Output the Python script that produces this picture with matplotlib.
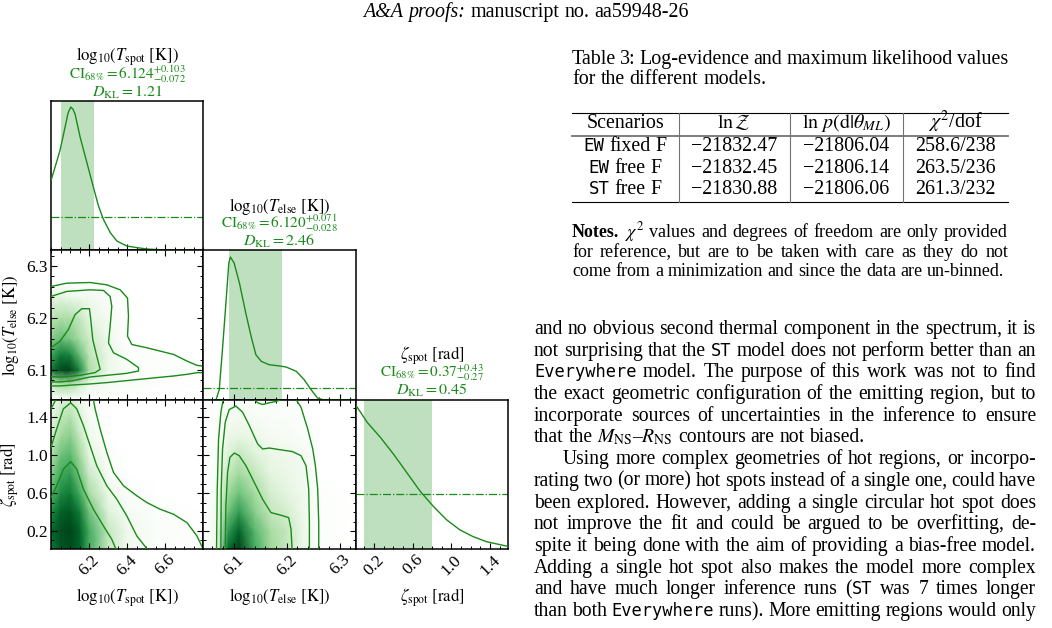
import re
import numpy as np
import matplotlib
matplotlib.use('Agg')
import matplotlib.pyplot as plt
from matplotlib.ticker import MultipleLocator
from matplotlib.transforms import IdentityTransform
from matplotlib.lines import Line2D
from matplotlib.colors import LinearSegmentedColormap

plt.rcParams['font.family'] = 'Liberation Serif'
plt.rcParams['mathtext.fontset'] = 'stix'

# ---------------- corner plot data ----------------
params = ['Tspot', 'Telse', 'zeta']
labels = {'Tspot': r'$\mathrm{log}_{10}(T_{\rm spot}\ [\rm K])$',
          'Telse': r'$\mathrm{log}_{10}(T_{\rm else}\ [\rm K])$',
          'zeta': r'$\zeta_{\rm spot}\ [\rm rad]$'}
lims = {'Tspot': (6.0, 6.8), 'Telse': (6.043, 6.33), 'zeta': (0.01, 1.585)}
ticks = {'Tspot': [6.2, 6.4, 6.6], 'Telse': [6.1, 6.2, 6.3], 'zeta': [0.2, 0.6, 1.0, 1.4]}
tick_labels = {'Tspot': ['6.2', '6.4', '6.6'], 'Telse': ['6.1', '6.2', '6.3'],
               'zeta': ['0.2', '0.6', '1.0', '1.4']}
minor_step = {'Tspot': 0.05, 'Telse': 0.02, 'zeta': 0.1}

# credible intervals and KL divergence
ci_med = {'Tspot': 6.124, 'Telse': 6.120, 'zeta': 0.37}
ci_lo = {'Tspot': 0.072, 'Telse': 0.028, 'zeta': 0.27}
ci_hi = {'Tspot': 0.103, 'Telse': 0.071, 'zeta': 0.43}
ci_fmt = {'Tspot': '%.3f', 'Telse': '%.3f', 'zeta': '%.2f'}
dkl = {'Tspot': '1.21', 'Telse': '2.46', 'zeta': '0.45'}

# 1D marginal posteriors (normalised to peak) and prior level
tspot_x = [6.0, 6.021, 6.047, 6.074, 6.09, 6.104, 6.115, 6.126, 6.153, 6.188, 6.223, 6.249,
           6.275, 6.311, 6.346, 6.398, 6.451, 6.504, 6.609, 6.8]
tspot_p = [0.486, 0.579, 0.696, 0.860, 0.96, 1.0, 0.985, 0.953, 0.790, 0.614, 0.439, 0.311,
           0.217, 0.124, 0.065, 0.030, 0.019, 0.009, 0.002, 0.0]
telse_x = [6.043, 6.067, 6.073, 6.079, 6.086, 6.091, 6.094, 6.101, 6.111, 6.123, 6.133, 6.142,
           6.152, 6.167, 6.183, 6.199, 6.218, 6.233, 6.246, 6.258, 6.268, 6.33]
telse_p = [0.0, 0.0, 0.07, 0.35, 0.70, 0.958, 1.0, 0.958, 0.818, 0.607, 0.444, 0.315,
           0.269, 0.245, 0.238, 0.229, 0.199, 0.14, 0.07, 0.012, 0.0, 0.0]
zeta_x = [0.01, 0.061, 0.130, 0.267, 0.403, 0.540, 0.677, 0.813, 0.950, 1.087, 1.224, 1.361,
          1.566, 1.585]
zeta_p = [1.0, 0.949, 0.879, 0.774, 0.657, 0.529, 0.401, 0.296, 0.203, 0.133, 0.086, 0.051,
          0.021, 0.018]
marg = {'Tspot': (tspot_x, tspot_p), 'Telse': (telse_x, telse_p), 'zeta': (zeta_x, zeta_p)}
prior_level = {'Tspot': 0.236, 'Telse': 0.082, 'zeta': 0.385}
top_pad = {'Tspot': 1.042, 'Telse': 1.047, 'zeta': 1.037}

# 2D densities on coarse grids (x along columns, y along rows)
dens_grid = {}
dens_grid[(1, 0)] = (
    [6.0, 6.05, 6.1, 6.15, 6.2, 6.3, 6.4, 6.55, 6.8],
    [6.043, 6.075, 6.10, 6.13, 6.16, 6.20, 6.24, 6.27, 6.33],
    [[0, 0, 0, 0, 0, 0, 0, 0, 0],
     [0.3, 0.4, 0.4, 0.28, 0.16, 0.08, 0.04, 0.02, 0.0],
     [0.75, 0.97, 1.0, 0.72, 0.38, 0.13, 0.05, 0.03, 0.02],
     [0.6, 0.75, 0.72, 0.52, 0.32, 0.15, 0.03, 0.01, 0.0],
     [0.45, 0.52, 0.48, 0.38, 0.27, 0.12, 0.01, 0, 0],
     [0.32, 0.36, 0.36, 0.3, 0.2, 0.08, 0, 0, 0],
     [0.2, 0.2, 0.15, 0.12, 0.1, 0.04, 0, 0, 0],
     [0, 0, 0, 0, 0, 0, 0, 0, 0],
     [0, 0, 0, 0, 0, 0, 0, 0, 0]])
dens_grid[(2, 0)] = (
    [6.0, 6.05, 6.1, 6.15, 6.2, 6.3, 6.4, 6.55, 6.8],
    [0.01, 0.2, 0.4, 0.6, 0.8, 1.0, 1.2, 1.4, 1.585],
    [[0.75, 0.9, 0.95, 0.85, 0.6, 0.3, 0.1, 0.03, 0.0],
     [0.8, 0.95, 1.0, 0.85, 0.6, 0.3, 0.12, 0.04, 0.01],
     [0.7, 0.85, 0.9, 0.75, 0.5, 0.22, 0.08, 0.03, 0.0],
     [0.55, 0.7, 0.75, 0.6, 0.38, 0.13, 0.04, 0.01, 0],
     [0.45, 0.6, 0.65, 0.48, 0.28, 0.06, 0.01, 0, 0],
     [0.35, 0.5, 0.55, 0.4, 0.2, 0.03, 0, 0, 0],
     [0.25, 0.4, 0.45, 0.3, 0.12, 0.01, 0, 0, 0],
     [0.15, 0.3, 0.35, 0.22, 0.07, 0, 0, 0, 0],
     [0.1, 0.22, 0.25, 0.15, 0.04, 0, 0, 0, 0]])
dens_grid[(2, 1)] = (
    [6.043, 6.07, 6.09, 6.11, 6.14, 6.17, 6.2, 6.23, 6.26, 6.33],
    [0.01, 0.2, 0.4, 0.6, 0.8, 1.0, 1.2, 1.4, 1.585],
    [[0, 0.15, 0.8, 1.0, 0.6, 0.4, 0.3, 0.15, 0.02, 0],
     [0, 0.12, 0.65, 0.85, 0.55, 0.38, 0.3, 0.15, 0.02, 0],
     [0, 0.1, 0.5, 0.65, 0.45, 0.3, 0.25, 0.13, 0.02, 0],
     [0, 0.08, 0.4, 0.5, 0.38, 0.25, 0.2, 0.12, 0.02, 0],
     [0, 0.06, 0.3, 0.4, 0.3, 0.2, 0.16, 0.1, 0.01, 0],
     [0, 0.05, 0.22, 0.3, 0.22, 0.15, 0.12, 0.08, 0.01, 0],
     [0, 0.03, 0.15, 0.18, 0.13, 0.08, 0.07, 0.04, 0, 0],
     [0, 0.02, 0.08, 0.1, 0.07, 0.05, 0.04, 0.02, 0, 0],
     [0, 0.01, 0.04, 0.05, 0.04, 0.03, 0.02, 0.01, 0, 0]])

# credible contours, read as (x, y) polylines
contours = {}
contours[(1, 0)] = [
    ([6.0, 6.0825, 6.2053, 6.293, 6.3632, 6.4018, 6.407, 6.4018, 6.4246, 6.5035, 6.5737, 6.6439,
      6.714, 6.7667, 6.802],
     [6.2605, 6.2669, 6.2682, 6.2637, 6.2541, 6.2382, 6.2032, 6.165, 6.149, 6.1427, 6.1363,
      6.1299, 6.1172, 6.1089, 6.1076]),
    ([6.802, 6.7667, 6.714, 6.6439, 6.5561, 6.4684, 6.3807, 6.293, 6.2053, 6.1175, 6.0474, 6.0],
     [6.0949, 6.0949, 6.0917, 6.0885, 6.0854, 6.0822, 6.079, 6.0758, 6.0732, 6.0713, 6.0694,
      6.0694]),
    ([6.0, 6.0825, 6.2053, 6.2754, 6.3105, 6.3193, 6.3105, 6.3018, 6.3281, 6.3982, 6.4596,
      6.4596, 6.3982, 6.293, 6.2053, 6.1175, 6.0474, 6.0],
     [6.2414, 6.251, 6.2541, 6.2529, 6.2414, 6.2223, 6.1841, 6.1522, 6.1331, 6.1204, 6.1045,
      6.0981, 6.0936, 6.0898, 6.0866, 6.0796, 6.0771, 6.0771]),
    ([6.0, 6.0474, 6.0912, 6.1263, 6.1614, 6.2018, 6.2088, 6.2193, 6.2404, 6.2579, 6.2316,
      6.1526, 6.0649, 6.0],
     [6.1427, 6.1554, 6.1777, 6.2064, 6.2178, 6.2178, 6.1968, 6.1586, 6.1268, 6.1013, 6.095,
      6.0898, 6.0866, 6.0873]),
]
contours[(2, 0)] = [
    ([6.0, 6.026], [1.488, 1.587]),
    ([6.2228, 6.2316, 6.2579, 6.293, 6.3281, 6.3807, 6.4509, 6.5035, 6.5737, 6.6439, 6.714,
      6.7667, 6.7982],
     [1.587, 1.488, 1.277, 1.030, 0.818, 0.677, 0.571, 0.500, 0.429, 0.376, 0.288, 0.147, 0.013]),
    ([6.0, 6.0298, 6.0649, 6.1035, 6.1351, 6.1702, 6.2053, 6.2404, 6.293, 6.3456, 6.3982,
      6.4509, 6.5035],
     [1.082, 1.277, 1.488, 1.552, 1.488, 1.312, 1.100, 0.888, 0.677, 0.535, 0.359, 0.147, 0.013]),
    ([6.0, 6.0298, 6.0649, 6.1035, 6.1351, 6.1702, 6.2228, 6.2754, 6.3193, 6.34],
     [0.553, 0.677, 0.853, 0.931, 0.853, 0.641, 0.429, 0.253, 0.112, 0.013]),
]
contours[(2, 1)] = [
    ([6.0679, 6.0692, 6.0717, 6.0761, 6.0805], [0.013, 0.641, 1.171, 1.453, 1.587]),
    ([6.139, 6.1453, 6.1547, 6.1673, 6.1799, 6.1893], [1.587, 1.552, 1.534, 1.552, 1.566, 1.587]),
    ([6.2176, 6.227, 6.2396, 6.2491, 6.2541, 6.2585, 6.2604, 6.2604],
     [1.587, 1.506, 1.277, 1.065, 0.888, 0.641, 0.288, 0.013]),
    ([6.0761, 6.0767, 6.0792, 6.0843, 6.0918, 6.1044, 6.117, 6.1296, 6.1453, 6.1547, 6.1673,
      6.1862, 6.2113, 6.227, 6.2365, 6.2415, 6.2428, 6.2428],
     [0.013, 0.641, 1.065, 1.347, 1.481, 1.517, 1.453, 1.312, 1.118, 1.065, 1.075, 1.058, 1.037,
      0.994, 0.888, 0.641, 0.288, 0.013]),
    ([6.0843, 6.0855, 6.0887, 6.0931, 6.1013, 6.1107, 6.1233, 6.139, 6.1547, 6.1704, 6.1893,
      6.2038, 6.2082, 6.2101],
     [0.013, 0.465, 0.818, 0.977, 1.022, 0.994, 0.888, 0.712, 0.535, 0.394, 0.366, 0.341, 0.218,
      0.013]),
]

# ---------------- page text ----------------
header = "__A&A__ __proofs:__ manuscript no. aa59948-26"
caption = ["Table 3: Log-evidence and maximum likelihood values",
           "for the different models."]
col_names = ["Scenarios", r"$\ln\mathcal{Z}$", r"$\ln\,p(\mathrm{d}|\theta_{ML})$",
             r"$\chi^2$/dof"]
scenarios = ["`EW` fixed F", "`EW` free F", "`ST` free F"]
ln_z = ["\u221221832.47", "\u221221832.45", "\u221221830.88"]
ln_like = ["\u221221806.04", "\u221221806.14", "\u221221806.06"]
chi2_dof = ["258.6/238", "263.5/236", "261.3/232"]
notes = [r"**Notes.** $\chi^2$ values and degrees of freedom are only provided",
         "for reference, but are to be taken with care as they do not",
         "come from a minimization and since the data are un-binned."]
body = [
    "and no obvious second thermal component in the spectrum, it is",
    "not surprising that the `ST` model does not perform better than an",
    "`Everywhere` model. The purpose of this work was not to find",
    "the exact geometric configuration of the emitting region, but to",
    "incorporate sources of uncertainties in the inference to ensure",
    r"that the $M_\mathrm{NS}$–$R_\mathrm{NS}$ contours are not biased.",
    "Using more complex geometries of hot regions, or incorpo-",
    "rating two (or more) hot spots instead of a single one, could have",
    "been explored. However, adding a single circular hot spot does",
    "not improve the fit and could be argued to be overfitting, de-",
    "spite it being done with the aim of providing a bias-free model.",
    "Adding a single hot spot also makes the model more complex",
    "and have much longer inference runs (`ST` was 7 times longer",
    "than both `Everywhere` runs). More emitting regions would only",
]

W, H = 1052, 628
GREEN = '#1a8a1a'
SHADE = '#bfe0bf'
cmap = LinearSegmentedColormap.from_list(
    'wgreens', ['#ffffff', '#e5f5e0', '#a1d99b', '#41ab5d', '#006d2c', '#00441b'])

fig = plt.figure(figsize=(W / 100, H / 100), dpi=100)
fig.patch.set_facecolor('white')

# corner grid in pixels
gx0, gx1, gy0, gy1 = 51, 508, 101, 549
pw, ph = (gx1 - gx0) / 3, (gy1 - gy0) / 3
TICK_FS = 12.5
LAB_FS = 12
CI_FS = 11

for i in range(3):
    for j in range(i + 1):
        px, py = gx0 + j * pw, gy0 + i * ph
        ax = fig.add_axes([px / W, 1 - (py + ph) / H, pw / W, ph / H])
        p = params[j]
        ax.set_xlim(*lims[p])
        if i == j:
            x, y = marg[p]
            ax.axvspan(ci_med[p] - ci_lo[p], ci_med[p] + ci_hi[p], color=SHADE, lw=0, zorder=1)
            ax.plot(x, y, color=GREEN, lw=1.0, zorder=3)
            ax.axhline(prior_level[p], color=GREEN, lw=0.9, ls='-.', zorder=2)
            ax.set_ylim(0, top_pad[p])
            ax.set_yticks([])
            fmt = ci_fmt[p]
            ci_txt = (r'$\mathrm{CI}_{68\%}=' + fmt % ci_med[p] + '^{+' + fmt % ci_hi[p] +
                      '}_{-' + fmt % ci_lo[p] + '}$')
            for txt, off, col, fs in [(labels[p], 31.8, 'black', LAB_FS),
                                      (ci_txt, 19.3, GREEN, CI_FS),
                                      (r'$D_{\rm KL}=' + dkl[p] + '$', 6.3, GREEN, 11.5)]:
                ax.annotate(txt, (0.5, 1.0), xycoords='axes fraction', xytext=(0, off),
                            textcoords='offset points', ha='center', va='center',
                            fontsize=fs, color=col)
            ax.tick_params(which='both', direction='in', top=False, left=False, right=False)
        else:
            q = params[i]
            xg, yg, z = dens_grid[(i, j)]
            ax.pcolormesh(xg, yg, np.array(z), shading='gouraud', cmap=cmap, vmin=0, vmax=1,
                          zorder=0)
            for cx, cy in contours[(i, j)]:
                ax.plot(cx, cy, color=GREEN, lw=1.0, zorder=3)
            ax.set_ylim(*lims[q])
            ax.set_yticks(ticks[q])
            ax.yaxis.set_minor_locator(MultipleLocator(minor_step[q]))
            if j == 0:
                ax.set_yticklabels(tick_labels[q], fontsize=TICK_FS)
                ax.set_ylabel(labels[q], fontsize=LAB_FS)
                ax.yaxis.set_label_coords(-0.2, 0.5)
            else:
                ax.set_yticklabels([])
            ax.tick_params(which='both', direction='in', top=True, right=True)
        ax.set_xticks(ticks[p])
        ax.xaxis.set_minor_locator(MultipleLocator(minor_step[p]))
        if i == 2:
            ax.set_xticklabels(tick_labels[p], fontsize=TICK_FS, rotation=45)
            ax.set_xlabel(labels[p], fontsize=LAB_FS)
            ax.xaxis.set_label_coords(0.5, -0.25)
        else:
            ax.set_xticklabels([])
        ax.tick_params(which='major', length=4, width=0.8, pad=2)
        ax.tick_params(which='minor', length=2.2, width=0.7)
        for s in ax.spines.values():
            s.set_linewidth(1.1)

# ---------------- text layout helpers ----------------
renderer = fig.canvas.get_renderer()
KINDS = {'rm': dict(family='Liberation Serif'),
         'tt': dict(family='DejaVu Sans Mono'),
         'bf': dict(family='Liberation Serif', weight='bold'),
         'it': dict(family='Liberation Serif', style='italic')}
TT_SCALE = 0.87


def segments(word):
    out = []
    for part in re.split(r'(`[^`]*`|\*\*[^*]*\*\*|__[^_]*__)', word):
        if not part:
            continue
        if part.startswith('`'):
            out.append((part[1:-1], 'tt'))
        elif part.startswith('**'):
            out.append((part[2:-2], 'bf'))
        elif part.startswith('__'):
            out.append((part[2:-2], 'it'))
        else:
            out.append((part, 'rm'))
    return out


def draw_line(line, x, y, size, x1=None, mode='left', color='black'):
    words = re.findall(r'(?:\$[^$]*\$|[^ $])+', line)
    items = []
    for w in words:
        segs = []
        for s, k in segments(w):
            fs = size * (TT_SCALE if k == 'tt' else 1.0)
            t = fig.text(0, 0, s, transform=IdentityTransform(), ha='left', va='baseline',
                         fontsize=fs, color=color, **KINDS[k])
            segs.append((t, t.get_window_extent(renderer).width))
        items.append(segs)
    widths = [sum(wd for _, wd in segs) for segs in items]
    sp = 0.25 * size * 100 / 72
    if mode == 'justify' and len(items) > 1:
        sp = (x1 - x - sum(widths)) / (len(items) - 1)
    if mode == 'center':
        x = x - (sum(widths) + sp * (len(items) - 1)) / 2
    cx = x
    for segs in items:
        for t, wd in segs:
            t.set_position((cx, H - y))
            cx += wd
        cx += sp


def hline(x0, x1, y, color='black', lw=0.8):
    fig.add_artist(Line2D([x0, x1], [H - y, H - y], transform=IdentityTransform(),
                          color=color, lw=lw))


def vline(x, y0, y1, color='0.45', lw=0.8):
    fig.add_artist(Line2D([x, x], [H - y0, H - y1], transform=IdentityTransform(),
                          color=color, lw=lw))


FS_BODY = 14.1
FS_TAB = 14.4
FS_NOTE = 13.0
draw_line(header, 526, 17, 14.4, mode='center')

# table caption
tx0, tx1 = 572, 1008
draw_line(caption[0], tx0, 64, FS_TAB, tx1, 'justify')
draw_line(caption[1], tx0, 84, FS_TAB)

# table body
col_centers = [625, 734, 846.5, 955]
col_edges = [678.5, 790, 903]
hline(tx0, tx1, 112.7)
hline(tx0, tx1, 136.0, color='0.45', lw=1.3)
hline(tx0, tx1, 202.3)
for xe in col_edges:
    vline(xe, 112.7, 202.3)
for c, name in enumerate(col_names):
    draw_line(name, col_centers[c], 128.5, FS_TAB, mode='center')
row_y = [151, 172.7, 194.3]
for r in range(3):
    for c, val in enumerate([scenarios[r], ln_z[r], ln_like[r], chi2_dof[r]]):
        draw_line(val, col_centers[c], row_y[r], FS_TAB, mode='center')

# notes
note_y = [237, 257, 276.5]
for k, line in enumerate(notes):
    draw_line(line, tx0, note_y[k], FS_NOTE, tx1, 'justify' if k < len(notes) - 1 else 'left')

# body text
bx0, bx1 = 534, 1036
for k, line in enumerate(body):
    indent = 29 if k == 6 else 0
    mode = 'left' if k == 5 else 'justify'
    draw_line(line, bx0 + indent, 334 + k * 21.7, FS_BODY, bx1, mode)

fig.savefig('out.png', dpi=100, facecolor='white')
